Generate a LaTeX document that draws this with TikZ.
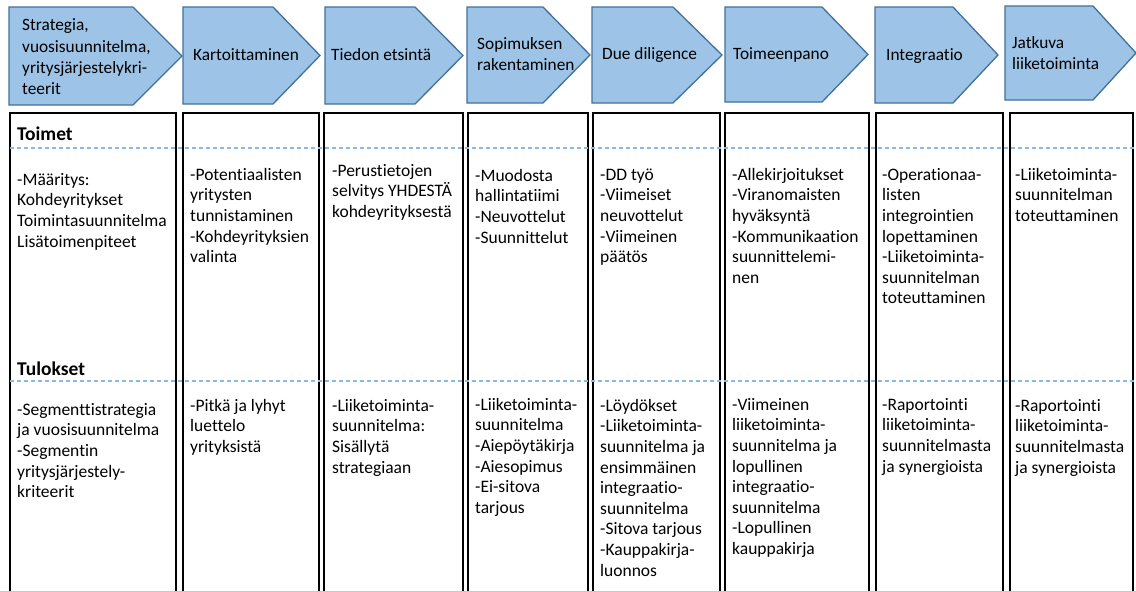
\documentclass[tikz,border=0pt]{standalone}
\usepackage{fontspec}
\setmainfont[Ligatures=NoCommon]{Carlito}
\definecolor{chevfill}{RGB}{157,195,230}
\definecolor{chevline}{RGB}{65,113,156}
\definecolor{sepblue}{RGB}{140,185,228}
\definecolor{rulegrey}{RGB}{200,200,200}
% fixed first-line height so that a cell's top sits 17pt above its first baseline
\newcommand\cellstrut{\rule{0pt}{17pt}}
\tikzset{
  chevron/.style={fill=chevfill, draw=chevline, line width=1.3pt, line join=miter},
  stagetext/.style={anchor=west, align=left, inner sep=0pt, font=\fontsize{17.3}{21.4}\selectfont},
  column/.style={draw=black, line width=1.8pt},
  celltext/.style={anchor=north west, align=left, inner sep=0pt, font=\fontsize{17.5}{20.6}\selectfont},
  rowhead/.style={anchor=base west, inner sep=0pt, font=\fontsize{19.5}{22}\selectfont\bfseries},
  sepline/.style={draw=sepblue, line width=1.3pt, dash pattern=on 4pt off 3pt},
}
\begin{document}
\begin{tikzpicture}[x=1pt,y=-1pt]
\useasboundingbox (0,0) rectangle (1136,592);
\fill[white] (0,0) rectangle (1136,592);

% stage chevrons: left edge, shoulder, tip, top, bottom
\foreach \l/\s/\t/\y/\b in {9/133/182/7/105, 183/273/320/7/104, 325/415/463/7/104,
    467/543/590/7/103, 592/673/722/7/103, 725/822/868/7/102, 875/953/998/7/103,
    1005/1093/1136/6/100}
  \draw[chevron] (\l,\y) -- (\s,\y) -- (\t,{(\y+\b)/2}) -- (\s,\b) -- (\l,\b) -- cycle;

\node[stagetext] (s1) at (22,57)   {Strategia,\\vuosisuunnitelma,\\yritysjärjestelykri-\\teerit};
\node[stagetext] (s2) at (193,55)  {Kartoittaminen};
\node[stagetext] (s3) at (331,55)  {Tiedon etsintä};
\node[stagetext] (s4) at (477,54)  {Sopimuksen\\rakentaminen};
\node[stagetext] (s5) at (602,55)  {Due diligence};
\node[stagetext] (s6) at (733,55)  {Toimeenpano};
\node[stagetext] (s7) at (886,56)  {Integraatio};
\node[stagetext] (s8) at (1012,53) {Jatkuva\\liiketoiminta};

% bottom rule
\draw[rulegrey, line width=1pt] (0,591) -- (1136,591);

% open columns
\foreach \l/\r in {10/176, 183/319, 324/463, 468/588, 593/720, 725/869, 876/1003, 1010/1133}
  \draw[column] (\l,591) -- (\l,113) -- (\r,113) -- (\r,591);

% row separators
\draw[sepline] (10,148) -- (1136,148);
\draw[sepline] (10,381) -- (1136,381);

\node[rowhead] (toimet) at (17,140) {Toimet};
\node[rowhead] (tulokset) at (17,375) {Tulokset};

% actions (node tops = first baseline - 17)
\node[celltext] (a1) at (17,168)  {\cellstrut-Määritys:\\Kohdeyritykset\\Toimintasuunnitelma\\Lisätoimenpiteet};
\node[celltext] (a2) at (190,163) {\cellstrut-Potentiaalisten\\yritysten\\tunnistaminen\\-Kohdeyrityksien\\valinta};
\node[celltext] (a3) at (332,159) {\cellstrut-Perustietojen\\selvitys YHDESTÄ\\kohdeyrityksestä};
\node[celltext] (a4) at (475,164) {\cellstrut-Muodosta\\hallintatiimi\\-Neuvottelut\\-Suunnittelut};
\node[celltext] (a5) at (600,163) {\cellstrut-DD työ\\-Viimeiset\\neuvottelut\\-Viimeinen\\päätös};
\node[celltext] (a6) at (732,163) {\cellstrut-Allekirjoitukset\\-Viranomaisten\\hyväksyntä\\-Kommunikaation\\suunnittelemi-\\nen};
\node[celltext] (a7) at (882,163) {\cellstrut-Operationaa-\\listen\\integrointien\\lopettaminen\\-Liiketoiminta-\\suunnitelman\\toteuttaminen};
\node[celltext] (a8) at (1015,163) {\cellstrut-Liiketoiminta-\\suunnitelman\\toteuttaminen};

% results
\node[celltext] (r1) at (17,398)  {\cellstrut-Segmenttistrategia\\ja vuosisuunnitelma\\-Segmentin\\yritysjärjestely-\\kriteerit};
\node[celltext] (r2) at (190,394) {\cellstrut-Pitkä ja lyhyt\\luettelo\\yrityksistä};
\node[celltext] (r3) at (332,394) {\cellstrut-Liiketoiminta-\\suunnitelma:\\Sisällytä\\strategiaan};
\node[celltext] (r4) at (475,393) {\cellstrut-Liiketoiminta-\\suunnitelma\\-Aiepöytäkirja\\-Aiesopimus\\-Ei-sitova\\tarjous};
\node[celltext] (r5) at (600,394) {\cellstrut-Löydökset\\-Liiketoiminta-\\suunnitelma ja\\ensimmäinen\\integraatio-\\suunnitelma\\-Sitova tarjous\\-Kauppakirja-\\luonnos};
\node[celltext] (r6) at (732,393) {\cellstrut-Viimeinen\\liiketoiminta-\\suunnitelma ja\\lopullinen\\integraatio-\\suunnitelma\\-Lopullinen\\kauppakirja};
\node[celltext] (r7) at (882,393) {\cellstrut-Raportointi\\liiketoiminta-\\suunnitelmasta\\ja synergioista};
\node[celltext] (r8) at (1015,394) {\cellstrut-Raportointi\\liiketoiminta-\\suunnitelmasta\\ja synergioista};
\end{tikzpicture}
\end{document}
